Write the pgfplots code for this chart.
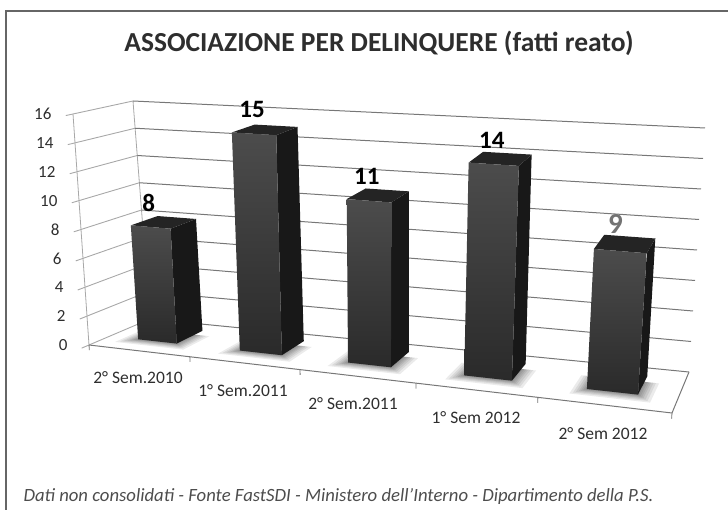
\documentclass[border=0pt]{standalone}
\usepackage{pgfplots}
\pgfplotsset{compat=1.18}
\usepackage{fontspec}
\setmainfont{Carlito}
\definecolor{framec}{HTML}{666666}
\definecolor{wallc}{HTML}{A8A8A8}
\definecolor{gridc}{HTML}{777777}
\definecolor{txt}{HTML}{2E2E2E}
\definecolor{barside}{HTML}{181818}
\definecolor{bartop}{HTML}{242424}
\definecolor{barhi}{HTML}{4C4C4C}
\definecolor{barlo}{HTML}{2A2A2A}
% world coordinates: u along the categories (0..1), d depth (0 front, 1 back), v value (0..16)
\tikzset{declare function={
  px(\u,\d,\v)=89+583*\u+61*\d-1*\v-44*\u*\d+2.1875*\u*\v-0.0625*\d*\v-0.125*\u*\d*\v;
  py(\u,\d,\v)=345+68*\u-26*\d-14.4375*\v-15*\u*\d-1.6875*\u*\v+0.8125*\d*\v+0.0625*\u*\d*\v;
}}
\pgfplotsset{table/world/.style={row sep=\\,
  x expr={px(\thisrow{u},\thisrow{d},\thisrow{v})},
  y expr={py(\thisrow{u},\thisrow{d},\thisrow{v})}}}
% \drawbar{left u}{right u}{value}
\newcommand\drawbar[3]{%
  \pgfplotsinvokeforeach{0.024,0.019,0.015,0.011,0.008,0.005,0.002}{%
    \pgfmathsetmacro\ua{#1-##1}\pgfmathsetmacro\ub{#2+##1*1.1}%
    \pgfmathsetmacro\da{0.34-##1*6.5}\pgfmathsetmacro\db{0.66}%
    \edef\tmp{\noexpand\addplot[fill=black,fill opacity=0.08,draw=none] table[world]{u d v\noexpand\\ \ua\space \da\space 0\noexpand\\ \ub\space \da\space 0\noexpand\\ \ub\space \db\space 0\noexpand\\ \ua\space \db\space 0\noexpand\\};}\tmp}
  \addplot[fill=barside,draw=none] table[world]{u d v\\ #2 0.34 0\\ #2 0.80 0\\ #2 0.80 #3\\ #2 0.34 #3\\};
  \addplot[fill=bartop,draw=none] table[world]{u d v\\ #1 0.34 #3\\ #2 0.34 #3\\ #2 0.80 #3\\ #1 0.80 #3\\};
  \addplot[draw=none,shade,top color=barhi,bottom color=barlo,shading angle=0] table[world]{u d v\\ #1 0.34 0\\ #2 0.34 0\\ #2 0.34 #3\\ #1 0.34 #3\\};
}
\begin{document}
\begin{tikzpicture}
\useasboundingbox (0,0) rectangle (728pt,510pt);
\begin{axis}[
  scale only axis, width=728pt, height=510pt,
  xmin=0, xmax=728, ymin=0, ymax=510, y dir=reverse,
  hide axis, clip=false, /pgf/number format/assume math mode=true]
% frame
\addplot[framec,line width=1.2pt] coordinates {(6,510) (6,11) (728,11)};
% left wall verticals
\addplot[wallc,line width=0.8pt] table[world]{u d v\\ 0 0 0\\ 0 0 16\\};
\addplot[wallc,line width=0.8pt] table[world]{u d v\\ 0 1 16\\ 0 1 0\\};
% grid lines
\pgfplotsinvokeforeach{0,2,...,16}{
  \addplot[wallc,line width=0.9pt] table[world]{u d v\\ 0 -0.12 #1\\ 0 1 #1\\};
  \addplot[gridc,line width=1pt] table[world]{u d v\\ 0 1 #1\\ 1 1 #1\\};
}
% floor
\addplot[gridc,line width=1pt] table[world]{u d v\\ 0 0 0\\ 1 0 0\\ 1 1 0\\};
\pgfplotsinvokeforeach{0,0.173,0.362,0.561,0.770,1}{
  \addplot[gridc,line width=0.8pt] table[world]{u d v\\ #1 0 0\\ #1 0 -0.35\\};
}
% bars
\drawbar{0.050}{0.118}{8}
\drawbar{0.229}{0.303}{15}
\drawbar{0.4195}{0.495}{11}
\drawbar{0.624}{0.708}{14}
\drawbar{0.840}{0.930}{9}
% value labels
\addplot[draw=none,nodes near coords,point meta=explicit,
  nodes near coords style={anchor=center,yshift=24pt,xshift=-2pt,font=\fontsize{25}{25}\selectfont\bfseries,text=black}]
  table[world,meta=v]{u d v\\ 0.084 0.34 8\\ 0.266 0.34 15\\ 0.457 0.34 11\\ 0.666 0.34 14\\};
\addplot[draw=none,nodes near coords,point meta=explicit,
  nodes near coords style={anchor=center,yshift=27pt,xshift=-5pt,font=\fontsize{29}{29}\selectfont\bfseries,text=gray!90!black}]
  table[world,meta=v]{u d v\\ 0.885 0.34 9\\};
% text
\pgfplotsinvokeforeach{0,2,...,16}{
  \addplot[draw=none,nodes near coords,point meta=explicit,
    nodes near coords style={anchor=east,xshift=-18pt,yshift=0pt,font=\fontsize{17}{17}\selectfont,text=txt}]
    table[world,meta=v]{u d v\\ 0 0 #1\\};
}
\node[font=\fontsize{27.5}{27.5}\selectfont\bfseries,text=txt] at (axis cs:379,43) {ASSOCIAZIONE PER DELINQUERE (fatti reato)};
\node[font=\fontsize{17.5}{17.5}\selectfont,text=txt] at (axis cs:138,378) {2° Sem.2010};
\node[font=\fontsize{17.5}{17.5}\selectfont,text=txt] at (axis cs:243,391) {1° Sem.2011};
\node[font=\fontsize{17.5}{17.5}\selectfont,text=txt] at (axis cs:353,404) {2° Sem.2011};
\node[font=\fontsize{17.5}{17.5}\selectfont,text=txt] at (axis cs:476,418) {1° Sem 2012};
\node[font=\fontsize{17.5}{17.5}\selectfont,text=txt] at (axis cs:603,434) {2° Sem 2012};
\node[font=\fontsize{18.7}{18.7}\selectfont\itshape,text=txt!85!white,anchor=base west] at (axis cs:20,501) {Dati non consolidati - Fonte FastSDI - Ministero dell'Interno - Dipartimento della P.S.};
\end{axis}
\end{tikzpicture}
\end{document}
